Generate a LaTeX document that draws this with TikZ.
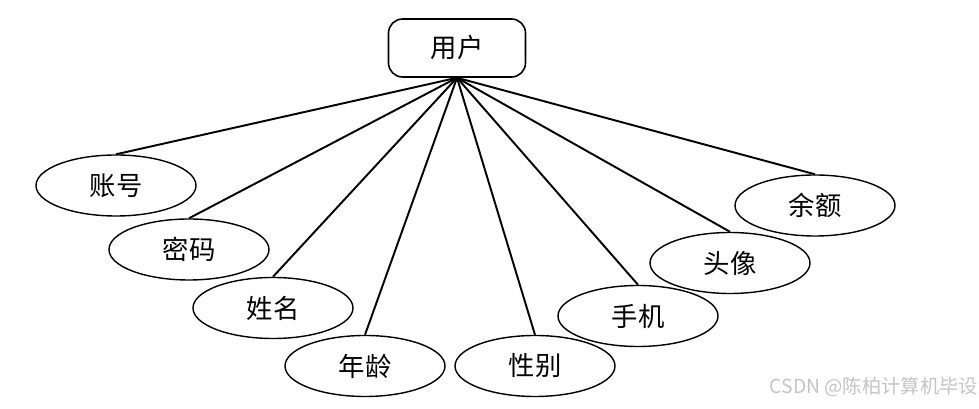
\documentclass[tikz,border=0pt]{standalone}
\usepackage{fontspec}
\usepackage{tikz}
\usetikzlibrary{shapes.geometric}
\newfontfamily\cjk{Noto Sans CJK SC}
\definecolor{ink}{HTML}{000000}
\definecolor{wmgray}{HTML}{C4C4C4}
\tikzset{entity/.style={draw=ink,line width=0.9pt,rounded corners=8pt,minimum width=2.74cm,minimum height=1.16cm,font=\cjk\fontsize{15}{17}\selectfont},
attr/.style={draw=ink,line width=0.8pt,ellipse,minimum width=3.2cm,minimum height=1.22cm,inner sep=0pt,font=\cjk\fontsize{15}{17}\selectfont},
link/.style={ink,line width=1.1pt}}

\begin{document}
\begin{tikzpicture}
\useasboundingbox (0,0) rectangle (19.58,8.18);
\node[entity] (yonghu) at (9.14,7.22){用户};
\node[attr] (zhanghao) at (2.32,4.47){账号};
\node[attr] (mima) at (3.78,3.19){密码};
\node[attr] (xingming) at (5.46,2.02){姓名};
\node[attr] (nianling) at (7.30,0.86){年龄};
\node[attr] (xingbie) at (10.70,0.86){性别};
\node[attr] (shouji) at (12.76,1.86){手机};
\node[attr] (touxiang) at (14.60,2.92){头像};
\node[attr] (yue) at (16.30,4.07){余额};
\foreach \n in {zhanghao,mima,xingming,nianling,xingbie,shouji,touxiang,yue}{\draw[link] (yonghu.south)--(\n.north);}
\node[wmgray,font=\cjk\fontsize{11}{13}\selectfont] (wm) at (17.48,0.44){CSDN @陈柏计算机毕设};
\end{tikzpicture}
\end{document}
